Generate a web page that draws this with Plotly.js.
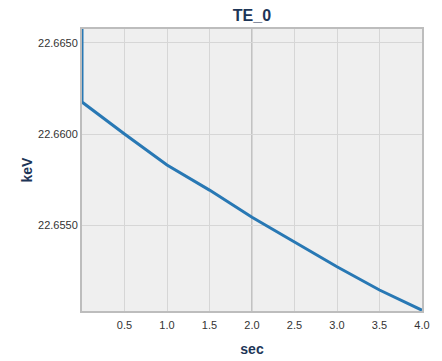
<!DOCTYPE html>
<html>
<head>
<meta charset="utf-8">
<script src="https://cdn.plot.ly/plotly-3.0.1.min.js"></script>
<style>html,body{margin:0;padding:0;background:#fff;}#chart{width:442px;height:361px;}</style>
</head>
<body>
<div id="chart"></div>
<script>
var timeSec = [0, 0, 0.5, 1.0, 1.5, 2.0, 2.5, 3.0, 3.5, 4.0];
var energyKeV = [22.6685, 22.66175, 22.66000, 22.65830, 22.65693, 22.65544, 22.65409, 22.65273, 22.65146, 22.65035];
var xTickVals = [0.5, 1.0, 1.5, 2.0, 2.5, 3.0, 3.5, 4.0];
var xTickText = ['0.5', '1.0', '1.5', '2.0', '2.5', '3.0', '3.5', '4.0'];
var yTickVals = [22.655, 22.660, 22.665];
var yTickText = ['22.6550', '22.6600', '22.6650'];

var navy = '#1d3557';
var trace = {
  x: timeSec, y: energyKeV, type: 'scatter', mode: 'lines',
  line: {color: '#2878b4', width: 3}, hoverinfo: 'skip'
};
var layout = {
  width: 442, height: 361,
  margin: {l: 82, r: 20, t: 29, b: 50, pad: 0},
  paper_bgcolor: '#ffffff', plot_bgcolor: '#efefef',
  showlegend: false,
  font: {family: 'Liberation Sans, Arial, sans-serif', size: 11, color: '#333'},
  title: {text: '<b>TE_0</b>', x: 0.57, xanchor: 'center', y: 0.958, yanchor: 'middle',
          font: {family: 'Liberation Sans, Arial, sans-serif', size: 16, color: navy}},
  xaxis: {
    range: [0, 4], tickvals: xTickVals, ticktext: xTickText,
    showgrid: true, gridcolor: '#d6d6d6', gridwidth: 1, zeroline: false,
    showline: true, linecolor: '#bdbdbd', linewidth: 2, mirror: true,
    ticks: 'outside', ticklen: 3, tickcolor: 'rgba(0,0,0,0)',
    tickfont: {size: 11, color: '#333'},
    title: {text: '<b>sec</b>', standoff: 14, font: {size: 14, color: navy}}
  },
  yaxis: {
    range: [22.65031, 22.66575], tickvals: yTickVals, ticktext: yTickText,
    showgrid: true, gridcolor: '#d6d6d6', gridwidth: 1, zeroline: false,
    showline: true, linecolor: '#bdbdbd', linewidth: 2, mirror: true,
    ticks: '', ticklen: 0,
    tickfont: {size: 11, color: '#333'},
    title: {text: '<b>keV</b>', standoff: 2, font: {size: 14, color: navy}}
  },
  shapes: [{type: 'line', layer: 'below', xref: 'x', yref: 'paper', x0: 2, x1: 2, y0: 0, y1: 1,
            line: {color: '#c2c2c2', width: 2}}]
};
Plotly.newPlot('chart', [trace], layout, {displayModeBar: false, staticPlot: true});
</script>
</body>
</html>
